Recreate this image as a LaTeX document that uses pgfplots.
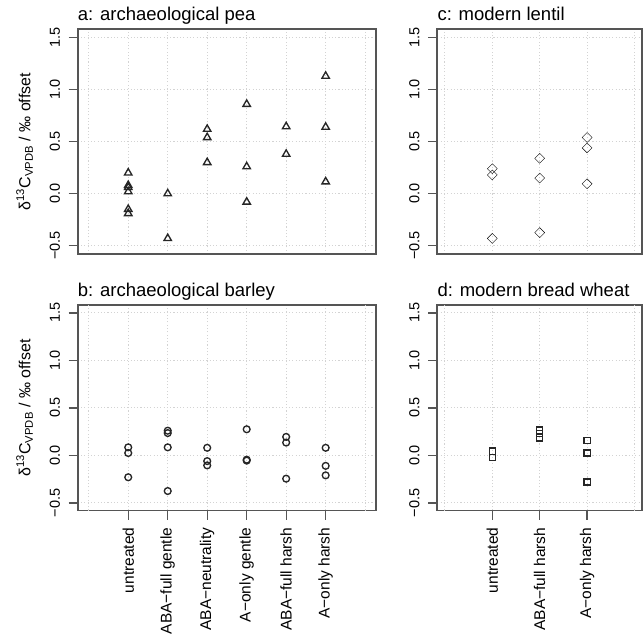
\documentclass[border=0pt]{standalone}
\usepackage{pgfplots}
\pgfplotsset{compat=1.18}
\usepackage{fontspec}
\setmainfont{Liberation Sans}
\definecolor{framec}{HTML}{555555}
\definecolor{gridc}{HTML}{D3D3D3}
\definecolor{markc}{HTML}{262626}
\pgfplotsset{
  panel/.style={
    scale only axis, anchor=south west,
    ymin=-0.58, ymax=1.58,
    ytick={-0.5,0,0.5,1,1.5},
    yticklabels={−0.5,0.0,0.5,1.0,1.5},
    yticklabel style={rotate=90, anchor=south, inner sep=0pt, font=\fontsize{14.5}{14.5}\selectfont},
    yticklabel shift=8.5pt, xticklabel shift=8pt,
    tick align=outside, major tick length=9pt, tick pos=left,
    tick style={draw=framec, line width=1.3pt},
    axis line style={draw=framec, line width=1.8pt},
    ymajorgrids, xmajorgrids,
    grid style={draw=gridc, line width=0.9pt, dash pattern=on 1.1pt off 2.2pt},
    title style={at={(rel axis cs:0,1)}, anchor=base west, yshift=2.8pt, inner sep=0pt, font=\fontsize{18.5}{18.5}\selectfont},
    xticklabel style={rotate=90, anchor=east, inner sep=0pt, font=\fontsize{15.5}{15.5}\selectfont},
    every axis y label/.style={at={([xshift=-44.5pt]rel axis cs:0,0.5)}, rotate=90, anchor=south, inner sep=0pt, font=\fontsize{16}{16}\selectfont},
  },
  toprow/.style={xtick={0,...,7}, xticklabels={}, xtick style={draw=none}},
  six/.style={xmin=-0.28, xmax=7.28, width=298.5pt},
  three/.style={xmin=-0.16, xmax=4.16, width=204.8pt},
  pts/.style={only marks, mark options={draw=markc, fill=none, line width=1.35pt}},
}
\newcommand{\ylab}{δ\textsuperscript{13}C\textsubscript{VPDB} / ‰ offset}
\begin{document}
\begin{tikzpicture}
\path[use as bounding box] (0pt,0pt) rectangle (643pt,633pt);
% a
\begin{axis}[panel, six, toprow, at={(77.7pt,379pt)}, height=224.7pt,
  title={a: archaeological pea}, ylabel={\ylab}]
\addplot[pts, mark=triangle, mark size=4.3pt] coordinates {
 (1,0.20) (1,0.08) (1,0.06) (1,0.02) (1,-0.15) (1,-0.19)
 (2,0.00) (2,-0.43)
 (3,0.62) (3,0.54) (3,0.30)
 (4,0.86) (4,0.26) (4,-0.08)
 (5,0.645) (5,0.38)
 (6,1.13) (6,0.64) (6,0.115)
};
\end{axis}
% c
\begin{axis}[panel, three, toprow, at={(437.3pt,379pt)}, height=224.7pt,
  title={c: modern lentil}]
\addplot[pts, mark=square, mark size=3.5pt, mark options={rotate=45}] coordinates {
 (1,0.24) (1,0.18) (1,-0.43)
 (2,0.34) (2,0.15) (2,-0.375)
 (3,0.54) (3,0.44) (3,0.095)
};
\end{axis}
% b
\begin{axis}[panel, six, at={(77.7pt,122.5pt)}, height=205.2pt,
  title={b: archaeological barley}, ylabel={\ylab},
  xtick={1,...,6},
  xticklabels={untreated,ABA−full gentle,ABA−neutrality,A−only gentle,ABA−full harsh,A−only harsh},
  extra x ticks={0,7}, extra x tick labels={}, extra x tick style={grid=major, major tick length=0pt}]
\addplot[pts, mark=o, mark size=3.4pt] coordinates {
 (1,0.085) (1,0.025) (1,-0.23)
 (2,0.26) (2,0.235) (2,0.085) (2,-0.375)
 (3,0.08) (3,-0.06) (3,-0.105)
 (4,0.275) (4,-0.045) (4,-0.055)
 (5,0.195) (5,0.135) (5,-0.245)
 (6,0.08) (6,-0.11) (6,-0.21)
};
\end{axis}
% d
\begin{axis}[panel, three, at={(437.3pt,122.5pt)}, height=205.2pt,
  title={d: modern bread wheat},
  xtick={1,...,3},
  xticklabels={untreated,ABA−full harsh,A−only harsh},
  extra x ticks={0,4}, extra x tick labels={}, extra x tick style={grid=major, major tick length=0pt}]
\addplot[pts, mark=square, mark size=3.1pt] coordinates {
 (1,0.045) (1,-0.02)
 (2,0.265) (2,0.23) (2,0.185)
 (3,0.155) (3,0.025) (3,-0.28)
};
\end{axis}
\end{tikzpicture}
\end{document}
